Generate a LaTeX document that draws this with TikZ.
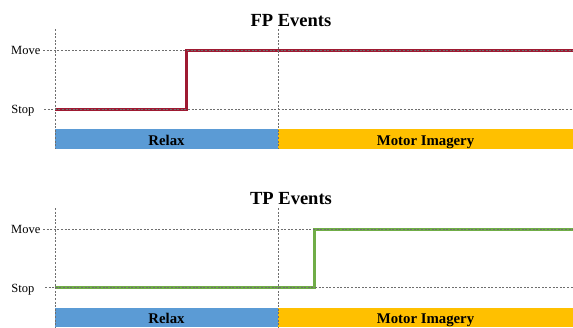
\documentclass[tikz,border=0pt]{standalone}
\usepackage{fontspec}
\setmainfont{Liberation Serif}
\definecolor{fpred}{RGB}{158,26,50}
\definecolor{tpgreen}{RGB}{112,173,71}
\definecolor{relaxblue}{RGB}{91,155,213}
\definecolor{miorange}{RGB}{255,192,0}
\definecolor{gridgray}{RGB}{110,110,110}
\tikzset{
  gridline/.style={draw=gridgray, line width=0.6pt, dash pattern=on 2pt off 1.6pt},
  titletext/.style={inner sep=0pt, anchor=base, font=\fontsize{18.5}{22}\selectfont\bfseries},
  leveltext/.style={inner sep=0pt, anchor=base east, font=\fontsize{12.5}{15}\selectfont},
  bartext/.style={inner sep=0pt, anchor=base, font=\fontsize{14.8}{18}\selectfont\bfseries},
  fpstep/.style={draw=fpred, line width=3pt},
  tpstep/.style={draw=tpgreen, line width=3.4pt}
}
\begin{document}
\begin{tikzpicture}[x=1pt,y=-1pt]
\useasboundingbox (0,0) rectangle (573,327);
% ---------- FP panel ----------
\node[titletext] (fptitle) at (291,26) {FP Events};
\node[leveltext] (fpmove) at (40.5,54.5) {Move};
\node[leveltext] (fpstop) at (34.5,113.5) {Stop};
\fill[relaxblue] (55,129) rectangle (278,149);
\fill[miorange] (278,129) rectangle (573,149);
\node[bartext] (fprelax) at (166.5,145.5) {Relax};
\node[bartext] (fpmi) at (425.5,145.5) {Motor Imagery};
\coordinate (fpa) at (55,109);
\coordinate (fpb) at (186.5,109);
\coordinate (fpc) at (186.5,50);
\coordinate (fpd) at (573,50);
\draw[fpstep] (fpa) -- (fpb) -- (fpc) -- (fpd);
\coordinate (fpml) at (43,50); \coordinate (fpmr) at (573,50);
\coordinate (fpsl) at (44,109); \coordinate (fpsr) at (573,109);
\coordinate (fpv1t) at (55,29); \coordinate (fpv1b) at (55,149);
\coordinate (fpv2t) at (278,29); \coordinate (fpv2b) at (278,149);
\draw[gridline] (fpml) -- (fpmr);
\draw[gridline] (fpsl) -- (fpsr);
\draw[gridline] (fpv1t) -- (fpv1b);
\draw[gridline] (fpv2t) -- (fpv2b);
% ---------- TP panel ----------
\node[titletext] (tptitle) at (291,204.5) {TP Events};
\node[leveltext] (tpmove) at (40.5,233.5) {Move};
\node[leveltext] (tpstop) at (34.5,292) {Stop};
\fill[relaxblue] (55,307.5) rectangle (278,327);
\fill[miorange] (278,307.5) rectangle (573,327);
\node[bartext] (tprelax) at (166.5,323.5) {Relax};
\node[bartext] (tpmi) at (425.5,323.5) {Motor Imagery};
\coordinate (tpa) at (55,287.5);
\coordinate (tpb) at (314.5,287.5);
\coordinate (tpc) at (314.5,229.5);
\coordinate (tpd) at (573,229.5);
\draw[tpstep] (tpa) -- (tpb) -- (tpc) -- (tpd);
\coordinate (tpml) at (43,229.5); \coordinate (tpmr) at (573,229.5);
\coordinate (tpsl) at (45,287.5); \coordinate (tpsr) at (573,287.5);
\coordinate (tpv1t) at (55,208); \coordinate (tpv1b) at (55,327);
\coordinate (tpv2t) at (278,208); \coordinate (tpv2b) at (278,327);
\draw[gridline] (tpml) -- (tpmr);
\draw[gridline] (tpsl) -- (tpsr);
\draw[gridline] (tpv1t) -- (tpv1b);
\draw[gridline] (tpv2t) -- (tpv2b);
\end{tikzpicture}
\end{document}
